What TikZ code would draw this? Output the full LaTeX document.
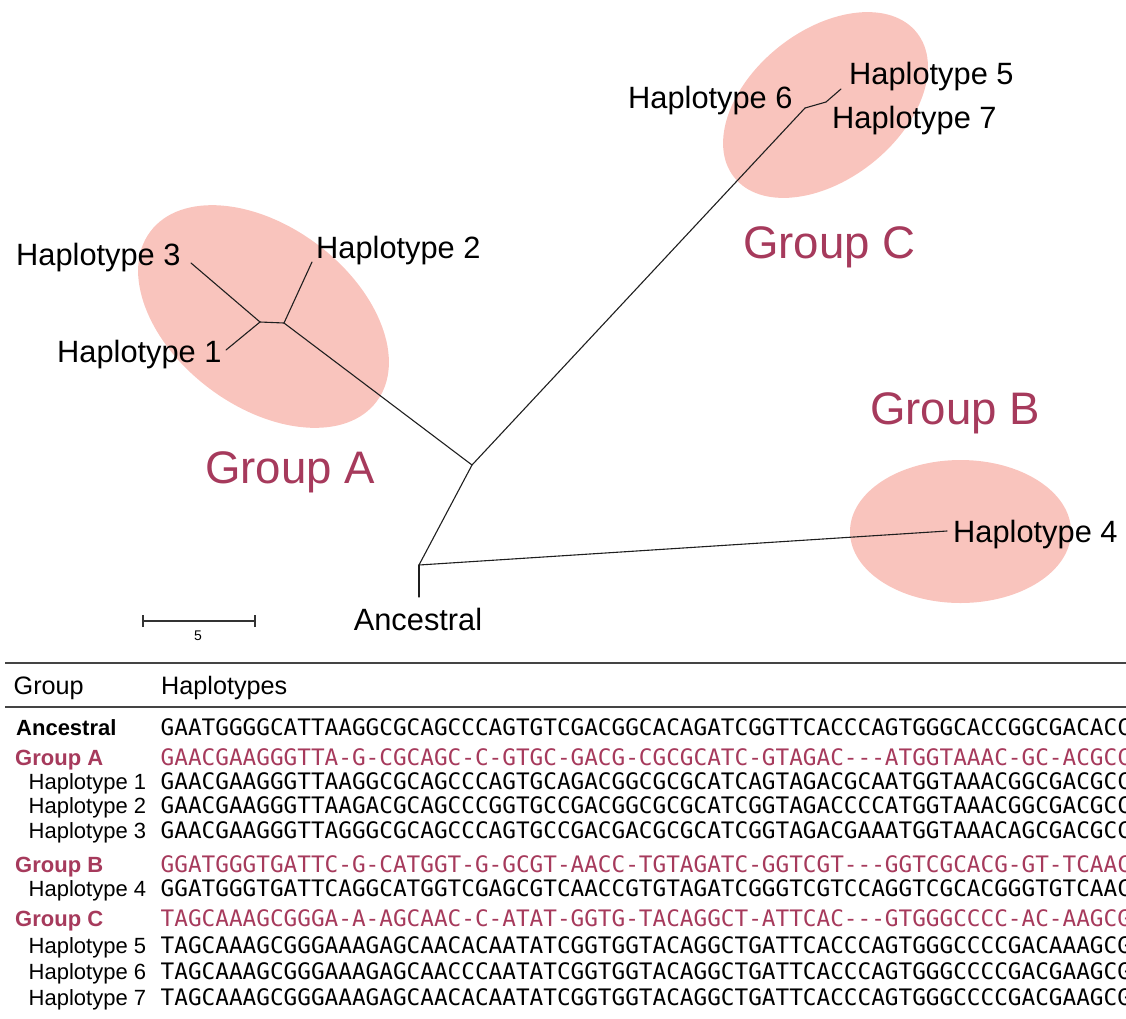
\documentclass[tikz,border=0pt]{standalone}
\usepackage{fontspec}
\setmainfont{Liberation Sans}
\newfontfamily\seqfont{DejaVu Sans Mono}
\usetikzlibrary{shapes.geometric}
\definecolor{grpred}{HTML}{A63A5C}
\definecolor{blobfill}{HTML}{F9C4BD}
\definecolor{rulegray}{HTML}{444444}
\begin{document}
\begin{tikzpicture}[x=1pt,y=-1pt,
  blob/.style={ellipse, fill=blobfill, draw=none, inner sep=0pt, outer sep=0pt},
  branch/.style={draw=black!88, line width=1.1pt, line cap=round, line join=round},
  tiplab/.style={font=\fontsize{30.8}{36}\selectfont, inner sep=0pt, anchor=base west},
  grplab/.style={font=\fontsize{45.6}{54}\selectfont, text=grpred, inner sep=0pt, anchor=base west},
  hdr/.style={font=\fontsize{25.2}{29}\selectfont, inner sep=0pt, anchor=base west},
  rowbold/.style={font=\bfseries\fontsize{22}{26}\selectfont, inner sep=0pt, anchor=base west},
  rowgrp/.style={rowbold, text=grpred},
  rowhap/.style={font=\fontsize{22}{26}\selectfont, inner sep=0pt, anchor=base west},
  seqtxt/.style={font=\seqfont\fontsize{22.7}{27}\selectfont, inner sep=0pt, anchor=base west},
  seqgrp/.style={seqtxt, text=grpred},
  tablerule/.style={draw=rulegray, line width=1.4pt},
  scalebar/.style={draw=black!80, line width=1.1pt}
]
\useasboundingbox (0,0) rectangle (1126,1018);

% ---- group ellipses ----
\node[blob, minimum width=283pt, minimum height=180pt, rotate=-36.9] (ellA) at (263.5,316.5) {};
\node[blob, minimum width=233pt, minimum height=149pt, rotate=38.3] (ellC) at (825.5,105) {};
\node[blob, minimum width=221pt, minimum height=143pt] (ellB) at (960.5,531.5) {};

% ---- tree coordinates ----
\coordinate (anc) at (419,597);
\coordinate (n0) at (419,565);
\coordinate (t4) at (947,531);
\coordinate (n1) at (472,465);
\coordinate (nA) at (284,323);
\coordinate (nA2) at (260,322);
\coordinate (t2) at (312,262);
\coordinate (t3) at (191,263);
\coordinate (t1) at (226,350);
\coordinate (nC) at (805,108);
\coordinate (nC2) at (826,102);
\coordinate (t5) at (841,89);

\draw[branch] (anc) -- (n0);
\draw[branch] (n0) -- (t4);
\draw[branch] (n0) -- (n1);
\draw[branch] (n1) -- (nA);
\draw[branch] (nA) -- (t2);
\draw[branch] (nA) -- (nA2);
\draw[branch] (nA2) -- (t3);
\draw[branch] (nA2) -- (t1);
\draw[branch] (n1) -- (nC);
\draw[branch] (nC) -- (nC2);
\draw[branch] (nC2) -- (t5);

% ---- tip labels ----
\node[tiplab] (lab3) at (16,265) {Haplotype 3};
\node[tiplab] (lab2) at (316,258) {Haplotype 2};
\node[tiplab] (lab1) at (57,362) {Haplotype 1};
\node[tiplab] (lab6) at (628,108) {Haplotype 6};
\node[tiplab] (lab5) at (849,84) {Haplotype 5};
\node[tiplab] (lab7) at (832,128) {Haplotype 7};
\node[tiplab] (lab4) at (953,542) {Haplotype 4};
\node[tiplab, anchor=base] (labanc) at (418,630) {Ancestral};

% ---- group labels ----
\node[grplab] (gA) at (205,483) {Group A};
\node[grplab] (gC) at (743,258) {Group C};
\node[grplab] (gB) at (870,424) {Group B};

% ---- scale bar ----
\coordinate (sb1) at (143,621);
\coordinate (sb2) at (255,621);
\draw[scalebar] (sb1) -- (sb2);
\draw[scalebar] ([yshift=-6pt]sb1) -- ([yshift=6pt]sb1);
\draw[scalebar] ([yshift=-6pt]sb2) -- ([yshift=6pt]sb2);
\node[font=\fontsize{14}{16}\selectfont, inner sep=0pt] (sblab) at (198,636) {5};

% ---- table ----
\coordinate (r1a) at (5,663);
\coordinate (r1b) at (1126,663);
\coordinate (r2a) at (5,707);
\coordinate (r2b) at (1126,707);
\draw[tablerule] (r1a) -- (r1b);
\draw[tablerule] (r2a) -- (r2b);
\node[hdr] (hGroup) at (13.5,694) {Group};
\node[hdr] (hHap) at (161,694) {Haplotypes};

\node[rowbold] (rAnc) at (16,735) {Ancestral};
\node[rowgrp] (rGA) at (15,765) {Group A};
\node[rowhap] (rH1) at (28.5,789) {Haplotype 1};
\node[rowhap] (rH2) at (28.5,813) {Haplotype 2};
\node[rowhap] (rH3) at (28.5,838) {Haplotype 3};
\node[rowgrp] (rGB) at (15,872) {Group B};
\node[rowhap] (rH4) at (28.5,896) {Haplotype 4};
\node[rowgrp] (rGC) at (15,926) {Group C};
\node[rowhap] (rH5) at (28.5,953) {Haplotype 5};
\node[rowhap] (rH6) at (28.5,979) {Haplotype 6};
\node[rowhap] (rH7) at (28.5,1005) {Haplotype 7};

\begin{scope}
\clip (0,0) rectangle (1126,1018);
\node[seqtxt] (sAnc) at (160.5,735) {GAATGGGGCATTAAGGCGCAGCCCAGTGTCGACGGCACAGATCGGTTCACCCAGTGGGCACCGGCGACACC};
\node[seqgrp] (sGA) at (160.5,765) {GAACGAAGGGTTA-G-CGCAGC-C-GTGC-GACG-CGCGCATC-GTAGAC---ATGGTAAAC-GC-ACGCC};
\node[seqtxt] (sH1) at (160.5,789) {GAACGAAGGGTTAAGGCGCAGCCCAGTGCAGACGGCGCGCATCAGTAGACGCAATGGTAAACGGCGACGCC};
\node[seqtxt] (sH2) at (160.5,813) {GAACGAAGGGTTAAGACGCAGCCCGGTGCCGACGGCGCGCATCGGTAGACCCCATGGTAAACGGCGACGCC};
\node[seqtxt] (sH3) at (160.5,838) {GAACGAAGGGTTAGGGCGCAGCCCAGTGCCGACGACGCGCATCGGTAGACGAAATGGTAAACAGCGACGCC};
\node[seqgrp] (sGB) at (160.5,872) {GGATGGGTGATTC-G-CATGGT-G-GCGT-AACC-TGTAGATC-GGTCGT---GGTCGCACG-GT-TCAAC};
\node[seqtxt] (sH4) at (160.5,896) {GGATGGGTGATTCAGGCATGGTCGAGCGTCAACCGTGTAGATCGGGTCGTCCAGGTCGCACGGGTGTCAAC};
\node[seqgrp] (sGC) at (160.5,926) {TAGCAAAGCGGGA-A-AGCAAC-C-ATAT-GGTG-TACAGGCT-ATTCAC---GTGGGCCCC-AC-AAGCG};
\node[seqtxt] (sH5) at (160.5,953) {TAGCAAAGCGGGAAAGAGCAACACAATATCGGTGGTACAGGCTGATTCACCCAGTGGGCCCCGACAAAGCG};
\node[seqtxt] (sH6) at (160.5,979) {TAGCAAAGCGGGAAAGAGCAACCCAATATCGGTGGTACAGGCTGATTCACCCAGTGGGCCCCGACGAAGCG};
\node[seqtxt] (sH7) at (160.5,1005) {TAGCAAAGCGGGAAAGAGCAACACAATATCGGTGGTACAGGCTGATTCACCCAGTGGGCCCCGACGAAGCG};
\end{scope}
\end{tikzpicture}
\end{document}
